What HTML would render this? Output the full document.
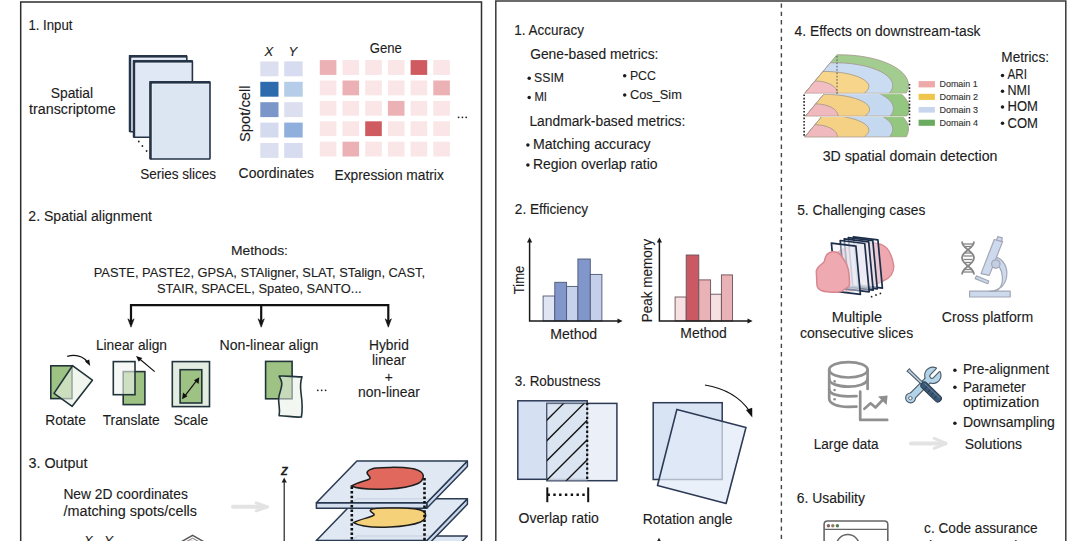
<!DOCTYPE html>
<html><head><meta charset="utf-8">
<style>
html,body{margin:0;padding:0;background:#fff;width:1076px;height:541px;overflow:hidden}
svg{display:block}
text{font-family:"Liberation Sans",sans-serif;fill:#1c1c1c;font-size:13.8px;stroke:#1c1c1c;stroke-width:0.12px}
.t{font-size:13.8px}
.s{font-size:9.6px;fill:#333}
</style></head><body>
<svg width="1076" height="541" viewBox="0 0 1076 541">
<!-- panels -->
<path d="M20.7 545 V2 H481.5 V545" fill="none" stroke="#2e2e2e" stroke-width="1.5"/>
<path d="M495.8 545 V0.9 H1065.8 V545" fill="none" stroke="#3a3a3a" stroke-width="1.5"/>
<line x1="781.4" y1="3.5" x2="781.4" y2="541" stroke="#444" stroke-width="1.4" stroke-dasharray="4.3 4"/>

<!-- ===== INPUT: slices ===== -->
<rect x="129.7" y="55.8" width="57.1" height="76.0" fill="#dce6f3" stroke="#263447" stroke-width="1.6" rx="0.8"/><path d="M130.15 132.1 V56.40 H187.0" fill="none" stroke="#263447" stroke-width="2.6"/><path d="M131.7 130.8 V58.2 H185.8" fill="none" stroke="#f2f6fb" stroke-width="0.8" stroke-opacity="0.8"/>
<rect x="133.7" y="60.8" width="58.7" height="76.5" fill="#dfe8f4" stroke="#263447" stroke-width="1.6" rx="0.8"/><path d="M134.15 137.6 V61.40 H192.6" fill="none" stroke="#263447" stroke-width="2.6"/><path d="M135.7 136.3 V63.2 H191.4" fill="none" stroke="#f2f6fb" stroke-width="0.8" stroke-opacity="0.8"/>
<rect x="150.2" y="81.8" width="59.8" height="77.2" fill="#dce6f3" stroke="#263447" stroke-width="1.6" rx="0.8"/><path d="M150.65 159.3 V82.40 H210.2" fill="none" stroke="#263447" stroke-width="2.6"/><path d="M152.2 158.0 V84.2 H209.0" fill="none" stroke="#f2f6fb" stroke-width="0.8" stroke-opacity="0.8"/>
<g fill="#222"><circle cx="138.8" cy="141.5" r="0.9"/><circle cx="142.4" cy="146" r="0.9"/><circle cx="146.6" cy="151" r="0.9"/></g>
<!-- coordinates -->
<g>
<rect x="260.3" y="61.4" width="18.2" height="14.9" fill="#dcdff0"/>
<rect x="260.3" y="81.8" width="18.2" height="14.9" fill="#2d6aae"/>
<rect x="260.3" y="102.2" width="18.2" height="14.9" fill="#7b96c8"/>
<rect x="260.3" y="122.6" width="18.2" height="14.9" fill="#d5dbef"/>
<rect x="260.3" y="143.0" width="18.2" height="14.9" fill="#dcdff0"/>
<rect x="284.2" y="61.4" width="18.5" height="14.9" fill="#d8dcf0"/>
<rect x="284.2" y="81.8" width="18.5" height="14.9" fill="#b5cde9"/>
<rect x="284.2" y="102.2" width="18.5" height="14.9" fill="#dcdff0"/>
<rect x="284.2" y="122.6" width="18.5" height="14.9" fill="#8fb0dc"/>
<rect x="284.2" y="143.0" width="18.5" height="14.9" fill="#d8dcf0"/>
</g>
<!-- expression matrix --><g><rect x="319.8" y="60.1" width="16.6" height="14.8" fill="#ebb1b4"/><rect x="342.5" y="60.1" width="16.6" height="14.8" fill="#fae5e7"/><rect x="365.2" y="60.1" width="16.6" height="14.8" fill="#fae5e7"/><rect x="387.9" y="60.1" width="16.6" height="14.8" fill="#fae5e7"/><rect x="410.6" y="60.1" width="16.6" height="14.8" fill="#cf5a5f"/><rect x="433.3" y="60.1" width="16.6" height="14.8" fill="#fae5e7"/><rect x="319.8" y="80.5" width="16.6" height="14.8" fill="#fae5e7"/><rect x="342.5" y="80.5" width="16.6" height="14.8" fill="#ebb1b4"/><rect x="365.2" y="80.5" width="16.6" height="14.8" fill="#fae5e7"/><rect x="387.9" y="80.5" width="16.6" height="14.8" fill="#fae5e7"/><rect x="410.6" y="80.5" width="16.6" height="14.8" fill="#fae5e7"/><rect x="433.3" y="80.5" width="16.6" height="14.8" fill="#ebb1b4"/><rect x="319.8" y="100.9" width="16.6" height="14.8" fill="#fae5e7"/><rect x="342.5" y="100.9" width="16.6" height="14.8" fill="#fae5e7"/><rect x="365.2" y="100.9" width="16.6" height="14.8" fill="#fae5e7"/><rect x="387.9" y="100.9" width="16.6" height="14.8" fill="#ebb1b4"/><rect x="410.6" y="100.9" width="16.6" height="14.8" fill="#fae5e7"/><rect x="433.3" y="100.9" width="16.6" height="14.8" fill="#fae5e7"/><rect x="319.8" y="121.3" width="16.6" height="14.8" fill="#fae5e7"/><rect x="342.5" y="121.3" width="16.6" height="14.8" fill="#fae5e7"/><rect x="365.2" y="121.3" width="16.6" height="14.8" fill="#cf5a5f"/><rect x="387.9" y="121.3" width="16.6" height="14.8" fill="#fae5e7"/><rect x="410.6" y="121.3" width="16.6" height="14.8" fill="#fae5e7"/><rect x="433.3" y="121.3" width="16.6" height="14.8" fill="#fae5e7"/><rect x="319.8" y="141.7" width="16.6" height="14.8" fill="#fae5e7"/><rect x="342.5" y="141.7" width="16.6" height="14.8" fill="#ebb1b4"/><rect x="365.2" y="141.7" width="16.6" height="14.8" fill="#fae5e7"/><rect x="387.9" y="141.7" width="16.6" height="14.8" fill="#fae5e7"/><rect x="410.6" y="141.7" width="16.6" height="14.8" fill="#fae5e7"/><rect x="433.3" y="141.7" width="16.6" height="14.8" fill="#fae5e7"/></g>
<g fill="#222"><circle cx="458.6" cy="117.3" r="0.9"/><circle cx="462.4" cy="117.3" r="0.9"/><circle cx="466.2" cy="117.3" r="0.9"/></g>

<!-- ===== ALIGNMENT bracket ===== -->
<g stroke="#111" stroke-width="2.2" fill="none">
<path d="M131 321 V305.1 H388.3 V321"/>
<path d="M261.2 305.1 V321"/>
</g>
<g fill="#111" stroke="#111" stroke-width="0.6" stroke-linejoin="round"><path d="M127.9 318.8 L131.0 321.3 L134.1 318.8 L131.0 327.2 Z"/><path d="M258.1 318.8 L261.2 321.3 L264.3 318.8 L261.2 327.2 Z"/><path d="M385.2 318.8 L388.3 321.3 L391.4 318.8 L388.3 327.2 Z"/></g>
<!-- Rotate icon -->
<rect x="50.8" y="365.8" width="21.2" height="32.8" fill="#9ec283" stroke="#22343a" stroke-width="1.6"/>
<path d="M72.5 365.7 L92.4 380.2 L72.2 406.3 L54 393.4 Z" fill="#e6efe2" fill-opacity="0.62" stroke="#22343a" stroke-width="1.6" stroke-linejoin="round"/>
<path d="M67.2 356.4 Q80 353 87.5 362" fill="none" stroke="#111" stroke-width="1.2"/>
<path d="M85 361.6 L90.2 366 L89.2 359.4 Z" fill="#111"/>
<!-- Translate icon -->
<rect x="123.2" y="371.6" width="21.7" height="33" fill="#9ec283" stroke="#22343a" stroke-width="1.6"/>
<rect x="113.3" y="361.6" width="21.7" height="33.1" fill="#eef3ec" fill-opacity="0.6" stroke="#22343a" stroke-width="1.6"/>
<path d="M154.7 371.6 L138.5 358" stroke="#111" stroke-width="1.2"/>
<path d="M136 356 L142.3 358 L138.8 361.8 Z" fill="#111"/>
<!-- Scale icon -->
<rect x="172.3" y="361.6" width="37.2" height="45" fill="#e3ece1" stroke="#22343a" stroke-width="1.6"/>
<rect x="180.1" y="369.7" width="21.7" height="33.3" fill="#9ec283" stroke="#22343a" stroke-width="1.6"/>
<path d="M184.5 396.3 L197 380.2" stroke="#111" stroke-width="1.2"/>
<path d="M182.1 399.3 L183 392.6 L187.5 396.2 Z" fill="#111"/>
<path d="M199.3 377.2 L198.5 383.9 L194 380.3 Z" fill="#111"/>
<!-- Non-linear icon -->
<rect x="265.6" y="361.4" width="26.5" height="37.4" fill="#9ec283" stroke="#22343a" stroke-width="1.6"/>
<path d="M279.1 376.1 C286 375.2 295 377.6 302 376.7 C300.2 382 300.2 387 301 393 C302 400 303 408 301.4 417 C294 417.9 286 415.4 279.1 415.7 C280.6 409 278.1 404 278.7 398 C279.2 392 282.8 387 281.6 382 C281 379.6 280 378 279.1 376.1 Z" fill="#eaf1e7" fill-opacity="0.55" stroke="#22343a" stroke-width="1.6" stroke-linejoin="round"/>
<g fill="#222"><circle cx="317.8" cy="390.3" r="0.9"/><circle cx="321.7" cy="390.3" r="0.9"/><circle cx="325.6" cy="390.3" r="0.9"/></g>

<!-- ===== OUTPUT ===== -->
<path d="M233 506.8 H265" stroke="#e3e3e3" stroke-width="4" stroke-linecap="round"/>
<path d="M256.2 502.8 L267.8 506.8 L256.2 510.9" fill="none" stroke="#e3e3e3" stroke-width="3" stroke-linecap="round" stroke-linejoin="round"/>
<!-- z axis -->
<path d="M284.2 481 V545" stroke="#222" stroke-width="1.2"/>
<path d="M281.6 482.5 L284.2 477.6 L286.8 482.5 Z" fill="#222"/>
<text x="284.4" y="474.6" text-anchor="middle" font-style="italic" style="font-size:14px;stroke-width:0.5px">z</text>
<!-- hexagon top -->
<path d="M180.5 542.2 L192.6 535.4 L204.7 542.2" fill="none" stroke="#555" stroke-width="1.4"/><path d="M184.5 542.6 L192.6 538.2 L200.7 542.6" fill="none" stroke="#777" stroke-width="1"/><ellipse cx="191" cy="542" rx="4" ry="1.6" fill="#d9a0a8"/>
<text x="84" y="544.6" font-style="italic" style="font-size:13px">X</text>
<text x="104.3" y="544.6" font-style="italic" style="font-size:13px">Y</text>
<!-- plates -->
<g stroke="#2a3a52" stroke-width="1.5" stroke-linejoin="round">
<!-- plate 3 -->
<path d="M356.9 536 H467.4 L426.8 577.7 H316.4 Z" fill="#dce6f2"/>
<!-- plate 2 -->
<path d="M426.8 540.4 L467.4 498.7 V504.3 L426.8 546 Z" fill="#c9d7ea"/>
<path d="M316.4 540.4 H426.8 V546 H316.4 Z" fill="#d3dfee"/>
<path d="M356.9 498.7 H467.4 L426.8 540.4 H316.4 Z" fill="#dce6f2" fill-opacity="0.92"/>
<!-- plate 1 -->
<path d="M426.8 502.7 L467.4 461 V466.6 L426.8 508.3 Z" fill="#c9d7ea"/>
<path d="M316.4 502.7 H426.8 V508.3 H316.4 Z" fill="#d3dfee"/>
<path d="M356.9 461 H467.4 L426.8 502.7 H316.4 Z" fill="#dce6f2" fill-opacity="0.92"/>
</g>
<!-- blobs -->
<path d="M351.6 486 C358 482 366 481 369.6 478.8 C372 477 365 474 367.5 471.5 C371 467.5 380 467.5 390 467.4 C402 467.2 415 467.3 421 472 C425 475 423.5 481 418 483.5 C410 487 400 488.5 388 489 C375 489.5 360 490 351.6 486 Z" fill="#e0685c" stroke="#1e1e1e" stroke-width="1.5"/>
<path d="M353.7 522.6 C360 519 369 518 373.6 515.4 C376 513.5 368 511.5 371 509.5 C375 507.5 385 508 395 508 C408 507.8 418 508 423 511 C427.5 514 426 519.5 420.5 522 C412 525.5 402 526.5 390 527 C378 527.5 362 528 353.7 522.6 Z" fill="#f5d27a" stroke="#1e1e1e" stroke-width="1.5"/>
<!-- dotted vertical lines -->
<g stroke="#111" stroke-width="2.6" stroke-dasharray="2.5 2.1">
<path d="M351.8 486.5 V545"/>
<path d="M424.5 478 V545"/>
</g>

<!-- ===== EFFICIENCY charts ===== -->
<g stroke="#4d5873" stroke-width="0.9">
<rect x="543.1" y="296" width="11.7" height="25" fill="#dfe5f2"/>
<rect x="554.8" y="282.3" width="11.8" height="38.7" fill="#8197cb"/>
<rect x="566.6" y="286.4" width="11.3" height="34.6" fill="#c6d2ec"/>
<rect x="577.9" y="259" width="12.4" height="62" fill="#8197cb"/>
<rect x="590.3" y="274.4" width="11.6" height="46.6" fill="#c3cfeb"/>
</g>
<g stroke="#6b5258" stroke-width="0.9">
<rect x="675.1" y="297" width="11.1" height="24" fill="#f6e0e2"/>
<rect x="686.2" y="255" width="12.6" height="66" fill="#c95a63"/>
<rect x="698.8" y="279.9" width="11.8" height="41.1" fill="#e8b2b6"/>
<rect x="710.6" y="294.2" width="10.8" height="26.8" fill="#f6e0e2"/>
<rect x="721.4" y="274.9" width="11.1" height="46.1" fill="#e8b2b6"/>
</g>
<g stroke="#1a1a1a" stroke-width="1.5" fill="none">
<path d="M529.6 241 V321 H619"/>
<path d="M659.4 241 V321 H749"/>
</g>
<g fill="#1a1a1a">
<path d="M527 242.6 L529.6 237.2 L532.2 242.6 Z"/>
<path d="M617.5 318.4 L622.6 321 L617.5 323.6 Z"/>
<path d="M656.8 242.5 L659.4 237.4 L662 242.5 Z"/>
<path d="M747.5 318.4 L752.6 321 L747.5 323.6 Z"/>
</g>

<!-- ===== ROBUSTNESS ===== -->
<rect x="517.8" y="400.8" width="69.4" height="78.5" fill="#d5e1f2" stroke="#2c3a55" stroke-width="1.5"/>
<rect x="546.9" y="403.4" width="70" height="77.3" fill="#e4ebf6" fill-opacity="0.75" stroke="#2c3a55" stroke-width="1.5"/>
<rect x="546.9" y="403.4" width="40.3" height="77.3" fill="#d6dfee" fill-opacity="0.5"/>
<clipPath id="ovc"><rect x="546.9" y="403.4" width="40.3" height="77.3"/></clipPath>
<g clip-path="url(#ovc)" stroke="#111" stroke-width="1.3">
<path d="M526 441 L606 361"/>
<path d="M526 461.5 L606 381.5"/>
<path d="M526 481.5 L606 401.5"/>
<path d="M526 501 L606 421"/>
<path d="M526 521 L606 441"/>

</g>
<path d="M587.2 403 V480" stroke="#111" stroke-width="2.2" stroke-dasharray="2.3 2.3"/>
<g stroke="#111" stroke-width="2">
<path d="M547.3 487.4 V502.2"/>
<path d="M588.2 487.4 V502.2"/>
<path d="M547.5 494.8 H585.5" stroke-width="2.5" stroke-dasharray="2.4 3.4"/>
</g>
<!-- rotation -->
<rect x="653.2" y="402.7" width="69" height="76.8" fill="#d8e3f3" stroke="#2c3a55" stroke-width="1.5"/>
<path d="M676.9 409.4 L746 427.4 L726.1 503.5 L657.5 485.5 Z" fill="#e2eaf6" fill-opacity="0.72" stroke="#2c3a55" stroke-width="1.6" stroke-linejoin="round"/>
<path d="M704.9 385 Q735 390 749.5 411" fill="none" stroke="#111" stroke-width="1.2"/>
<path d="M746 410 L752.3 417.4 L752.2 407.8 Z" fill="#111"/>
<path d="M656.6 542 L659 537.8 L661.4 542 Z" fill="#222"/>

<!-- ===== DOMAIN figure ===== -->
<path d="M804.80 137.00 L836.91 98.50 A68.5 30.5 0 0 1 906.10 137.00 Z" fill="#93c67e" stroke="#a3968a" stroke-width="0.9" stroke-opacity="0.9"/>
<path d="M804.80 137.00 L830.24 106.50 A58 22.8 0 0 1 889.31 137.00 Z" fill="#c4d9f0" stroke="#a3968a" stroke-width="0.9" stroke-opacity="0.9"/>
<path d="M804.80 137.00 L823.06 115.10 A45.9 15.1 0 0 1 863.98 137.00 Z" fill="#f5d186" stroke="#a3968a" stroke-width="0.9" stroke-opacity="0.9"/>
<path d="M804.80 137.00 L815.06 124.70 A22.5 12.3 0 0 1 837.50 137.00 Z" fill="#f0b9bd" stroke="#a3968a" stroke-width="0.9" stroke-opacity="0.9"/>
<path d="M804.30 137.40 H910.80" stroke="#fff" stroke-width="0.9" stroke-opacity="0.7"/>
<path d="M805.50 116.20 L837.61 77.70 A68.5 30.5 0 0 1 906.80 116.20 Z" fill="#93c67e" stroke="#a3968a" stroke-width="0.9" stroke-opacity="0.9"/>
<path d="M805.50 116.20 L830.94 85.70 A58 22.8 0 0 1 890.01 116.20 Z" fill="#c4d9f0" stroke="#a3968a" stroke-width="0.9" stroke-opacity="0.9"/>
<path d="M805.50 116.20 L823.76 94.30 A45.9 15.1 0 0 1 864.68 116.20 Z" fill="#f5d186" stroke="#a3968a" stroke-width="0.9" stroke-opacity="0.9"/>
<path d="M805.50 116.20 L815.76 103.90 A22.5 12.3 0 0 1 838.20 116.20 Z" fill="#f0b9bd" stroke="#a3968a" stroke-width="0.9" stroke-opacity="0.9"/>
<path d="M805.00 116.60 H911.50" stroke="#fff" stroke-width="0.9" stroke-opacity="0.7"/>
<path d="M804.80 93.30 L836.91 54.80 A68.5 30.5 0 0 1 906.10 93.30 Z" fill="#a3cd90" stroke="#a3968a" stroke-width="0.9" stroke-opacity="0.9"/>
<path d="M804.80 93.30 L830.24 62.80 A58 22.8 0 0 1 889.31 93.30 Z" fill="#cadcf2" stroke="#a3968a" stroke-width="0.9" stroke-opacity="0.9"/>
<path d="M804.80 93.30 L823.06 71.40 A45.9 15.1 0 0 1 863.98 93.30 Z" fill="#f7d68b" stroke="#a3968a" stroke-width="0.9" stroke-opacity="0.9"/>
<path d="M804.80 93.30 L815.06 81.00 A22.5 12.3 0 0 1 837.50 93.30 Z" fill="#f3bdc4" stroke="#a3968a" stroke-width="0.9" stroke-opacity="0.9"/>
<path d="M804.30 93.70 H910.80" stroke="#fff" stroke-width="0.9" stroke-opacity="0.7"/>
<g stroke="#222" stroke-width="1.6" stroke-dasharray="1.6 1.7"><path d="M804.1 94.5 V137.5"/><path d="M909.5 84 V127"/><path d="M837 56 V95" stroke="#555" stroke-width="1" /></g>
<rect x="918.6" y="81.1" width="16.3" height="6.3" fill="#eeaaa9"/>
<rect x="918.6" y="93.8" width="16.3" height="6.1" fill="#f0c54c"/>
<rect x="918.6" y="107" width="16.3" height="5.6" fill="#c7d6ee"/>
<rect x="918.6" y="119.7" width="16.3" height="6.1" fill="#6aab5f"/>
<text class="s" x="939.5" y="87.4" textLength="38.1" lengthAdjust="spacingAndGlyphs">Domain 1</text>
<text class="s" x="939.5" y="100.2" textLength="38.6" lengthAdjust="spacingAndGlyphs">Domain 2</text>
<text class="s" x="939.5" y="112.8" textLength="38.6" lengthAdjust="spacingAndGlyphs">Domain 3</text>
<text class="s" x="939.5" y="125.5" textLength="38.6" lengthAdjust="spacingAndGlyphs">Domain 4</text>
<!-- ===== CHALLENGING: slices ===== -->
<path d="M838 252 C850 245 868 241 880.4 244.2 C888 246.5 892 255 893.6 265 C894.6 273 889.5 278.5 883 281 C872 287 858 291 846 291 Z" fill="#eda9af" stroke="#d9868e" stroke-width="1.4"/>
<path d="M853.4 236.8 L877.9 239.8 L882.4 288.1 L857.9 285.1 Z" fill="#eef2fb" fill-opacity="0.45" stroke="#1d2e4a" stroke-width="1.7" stroke-linejoin="round"/>
<path d="M848.3 237.7 L872.8 240.7 L877.3 289.0 L852.8 286.0 Z" fill="#eef2fb" fill-opacity="0.45" stroke="#1d2e4a" stroke-width="1.7" stroke-linejoin="round"/>
<path d="M844.2 238.9 L868.7 241.9 L873.2 290.2 L848.7 287.2 Z" fill="#eef2fb" fill-opacity="0.45" stroke="#1d2e4a" stroke-width="1.7" stroke-linejoin="round"/>
<path d="M840.2 240.5 L864.7 243.5 L869.2 291.8 L844.7 288.8 Z" fill="#eef2fb" fill-opacity="0.45" stroke="#1d2e4a" stroke-width="1.7" stroke-linejoin="round"/>
<path d="M831.4 243.1 L855.9 246.1 L860.4 294.4 L835.9 291.4 Z" fill="#eef2fb" fill-opacity="0.45" stroke="#1d2e4a" stroke-width="1.7" stroke-linejoin="round"/>
<path d="M832.1 251.7 C834 251.6 835.5 251.8 836.9 252.2 C839 253 840.5 254.8 841.7 256.5 C843.5 258.8 845.2 261.3 846.5 264.2 C848 267.5 848.8 270.5 848.9 273.8 C849.2 277.5 849.8 281.5 849.4 285.4 C848 287.6 846.5 288.5 844.6 289.2 C842.5 291 840.5 292 838.8 292.1 C835.5 292.4 832.3 292.4 829.2 292.1 C826 291.8 823 291.3 820.6 290.2 C818.5 289 817.5 287.8 817.2 286.3 C816.8 283.8 816.6 281.2 816.7 278.7 C816.6 276 816.3 273.5 816.3 271 C816.8 268.8 817.8 267.4 819.1 266.2 C821 264.6 823.2 263.2 824.4 261.3 C825 258.8 825.5 256.2 826.8 254.6 C828.5 253 830.3 252 832.1 251.7 Z" fill="#eeaab0" stroke="#d8868f" stroke-width="1.5"/>
<g fill="#222"><circle cx="871.6" cy="296.7" r="0.9"/><circle cx="876" cy="295" r="0.9"/><circle cx="880.4" cy="293.4" r="0.9"/></g>
<g fill="none" stroke="#858585" stroke-width="1.8"><path d="M962 241.5 C962 249 974 251 974 257.8 C974 265 962 267 962 274.4"/><path d="M974 241.5 C974 249 962 251 962 257.8 C962 265 974 267 974 274.4"/></g><g stroke="#858585" stroke-width="1.3"><path d="M963 244 H973"/><path d="M964.5 246.5 H971.5"/><path d="M964.8 253 H971.2"/><path d="M963.5 256 H972.5"/><path d="M963.5 259.5 H972.5"/><path d="M964.8 262.5 H971.2"/><path d="M964.5 269.5 H971.5"/><path d="M963 272 H973"/></g>
<g stroke="#a3a7b6" stroke-width="1.2" fill="#cdd9ec" stroke-linejoin="round"><rect x="969.6" y="291.2" width="40.6" height="5.8"/><path d="M995 256.8 C1004 259 1008 268 1006.6 277 C1005 286 998 291.3 989 291.3 L995.5 291.3 C1000.5 289 1002.8 284 1002.4 277 C1002 270 999 265 994 262.5 Z"/><path d="M976.3 275.9 L988.8 281 L987.7 283.7 L975.2 278.6 Z"/><path d="M994.3 239.5 L1002.7 241.4 L989.3 275.4 L981 273.6 Z"/><path d="M997.7 236.6 L1002.4 237.9 L1001.4 241.3 L996.7 240 Z"/><circle cx="995.8" cy="264" r="4.2" fill="#c3cee2"/></g>
<g fill="none" stroke="#909090" stroke-width="2.7" stroke-linecap="round" stroke-linejoin="round"><ellipse cx="848.4" cy="369.8" rx="19.2" ry="7.7"/><path d="M829.2 369.8 V398.5 C829.2 404 838 406.6 848 406.8 L856.5 406.6"/><path d="M867.6 369.8 V389"/><path d="M829.2 379 C829.5 384 838 386.5 848 386.6 C858 386.6 867 384 867.6 379"/><path d="M829.2 389.5 C829.5 394 838 396.2 848 396.3 L856.5 396.2"/><path d="M860.2 391.5 V419.9 H887.2"/><path d="M864.4 408.8 L870.6 403.3 L875.5 407.5 L884.5 398"/></g><path d="M878 396.6 L887.6 395.4 L886.6 405 Z" fill="#8e8e8e"/><g fill="#8e8e8e"><circle cx="834.6" cy="381.4" r="1.3"/><circle cx="834.6" cy="390" r="1.3"/><circle cx="834.6" cy="399.2" r="1.3"/></g>
<g transform="translate(910.6 397.9) rotate(-45.5)"><g fill="#4b5866" stroke="#4b5866" stroke-width="2.2" stroke-linejoin="round"><path d="M38.80 -2.7 L30.50 -2.7 A2.7 2.7 0 0 0 30.50 2.7 L38.80 2.7 A7.6 7.6 0 1 1 38.80 -2.7 Z"/><rect x="0" y="-2.9" width="26.7" height="5.8"/><circle cx="0" cy="0" r="4.4"/></g><g fill="#b3d4e8"><path d="M38.80 -2.7 L30.50 -2.7 A2.7 2.7 0 0 0 30.50 2.7 L38.80 2.7 A7.6 7.6 0 1 1 38.80 -2.7 Z"/><rect x="0" y="-2.9" width="26.7" height="5.8"/><circle cx="0" cy="0" r="4.4"/></g><circle cx="-0.3" cy="0" r="1.7" fill="#fff" stroke="#4b5866" stroke-width="0.9"/></g>
<g transform="translate(908.2 370) rotate(43.8)"><path d="M0 -1.7 L3 -1.4 L20 -1.2 L20 1.2 L3 1.4 L0 1.7 Z" fill="#b9d0e2" stroke="#4b5866" stroke-width="1"/><rect x="19" y="-3.4" width="25.5" height="6.8" rx="3.2" fill="#3a5875" stroke="#2a3c50" stroke-width="1"/><g stroke="#1f3246" stroke-width="0.9"><path d="M25 -2.6 V2.6"/><path d="M29.5 -2.8 V2.8"/><path d="M34 -2.8 V2.8"/><path d="M38.5 -2.6 V2.6"/></g><path d="M21 -1.6 H42" stroke="#6d8cab" stroke-width="0.9"/></g>
<path d="M911 443.5 H944" stroke="#e3e3e3" stroke-width="4" stroke-linecap="round"/><path d="M934.2 438.4 L946.2 443.5 L934.2 448.4" fill="none" stroke="#e3e3e3" stroke-width="3" stroke-linecap="round" stroke-linejoin="round"/>
<path d="M824.1 545 V524.5 Q824.1 521 827.6 521 H884.3 Q887.8 521 887.8 524.5 V545" fill="none" stroke="#666" stroke-width="1.6"/><path d="M824.1 529.4 H887.8" stroke="#666" stroke-width="1.4"/><circle cx="828.4" cy="525.8" r="1.7" fill="#8a5e5e"/><circle cx="832.8" cy="525.8" r="1.7" fill="#8f8060"/><circle cx="837.4" cy="525.8" r="1.7" fill="#4e7d52"/><circle cx="847.8" cy="546.2" r="11.6" fill="none" stroke="#666" stroke-width="1.5"/>
<!-- LEFT PANEL TEXT -->
<text x="28.4" y="29.6" textLength="44.1" lengthAdjust="spacingAndGlyphs">1. Input</text>
<text x="50.7" y="98.2" textLength="42.4" lengthAdjust="spacingAndGlyphs">Spatial</text>
<text x="29" y="113.7" textLength="86.6" lengthAdjust="spacingAndGlyphs">transcriptome</text>
<text x="140.2" y="178.5" textLength="75.9" lengthAdjust="spacingAndGlyphs">Series slices</text>
<text x="238.6" y="178.4" textLength="75.3" lengthAdjust="spacingAndGlyphs">Coordinates</text>
<text x="334.5" y="179.9" textLength="109.3" lengthAdjust="spacingAndGlyphs">Expression matrix</text>
<text x="369.7" y="52.8" textLength="32.1" lengthAdjust="spacingAndGlyphs">Gene</text>
<text x="264.5" y="55.8" font-style="italic" style="font-size:13px">X</text>
<text x="288.6" y="55.8" font-style="italic" style="font-size:13px">Y</text>
<text transform="translate(249.6,113.7) rotate(-90)" text-anchor="middle" textLength="56.5" lengthAdjust="spacingAndGlyphs">Spot/cell</text>

<text x="28.3" y="221.2" textLength="123.7" lengthAdjust="spacingAndGlyphs">2. Spatial alignment</text>
<text x="230.9" y="254.6" style="font-size:12.9px" textLength="57.1" lengthAdjust="spacingAndGlyphs">Methods:</text>
<text x="93.7" y="277" style="font-size:12.9px" textLength="331.3" lengthAdjust="spacingAndGlyphs">PASTE, PASTE2, GPSA, STAligner, SLAT, STalign, CAST,</text>
<text x="157" y="293" style="font-size:12.9px" textLength="204.6" lengthAdjust="spacingAndGlyphs">STAIR, SPACEL, Spateo, SANTO...</text>
<text x="95.9" y="349.9" textLength="71.1" lengthAdjust="spacingAndGlyphs">Linear align</text>
<text x="219.5" y="349.5" textLength="98.9" lengthAdjust="spacingAndGlyphs">Non-linear align</text>
<text x="388.9" y="349.5" text-anchor="middle">Hybrid</text>
<text x="388.9" y="365.4" text-anchor="middle">linear</text>
<text x="388.9" y="381.5" text-anchor="middle">+</text>
<text x="389" y="397.4" text-anchor="middle" textLength="61.9" lengthAdjust="spacingAndGlyphs">non-linear</text>
<text x="65.5" y="425" text-anchor="middle">Rotate</text>
<text x="131.2" y="425" text-anchor="middle">Translate</text>
<text x="191" y="425" text-anchor="middle">Scale</text>

<text x="28.5" y="467.8" textLength="58.9" lengthAdjust="spacingAndGlyphs">3. Output</text>
<text x="63.4" y="499.4" textLength="124.4" lengthAdjust="spacingAndGlyphs">New 2D coordinates</text>
<text x="63.4" y="515.9" textLength="133.6" lengthAdjust="spacingAndGlyphs">/matching spots/cells</text>

<!-- RIGHT PANEL TEXT -->
<text x="514.3" y="35.3" textLength="69.7" lengthAdjust="spacingAndGlyphs">1. Accuracy</text>
<text x="530.2" y="58.8" textLength="128.2" lengthAdjust="spacingAndGlyphs">Gene-based metrics:</text>
<text x="534.1" y="81.6" style="font-size:12.8px" textLength="29.9" lengthAdjust="spacingAndGlyphs">SSIM</text>
<text x="629.9" y="79.5" style="font-size:12.8px" textLength="26" lengthAdjust="spacingAndGlyphs">PCC</text>
<text x="534.4" y="101.2" style="font-size:12.8px" textLength="12.6" lengthAdjust="spacingAndGlyphs">MI</text>
<text x="629.9" y="98.8" style="font-size:12.8px" textLength="52" lengthAdjust="spacingAndGlyphs">Cos_Sim</text>
<text x="529.4" y="125.8" textLength="156" lengthAdjust="spacingAndGlyphs">Landmark-based metrics:</text>
<text x="532.9" y="148.5" textLength="117.8" lengthAdjust="spacingAndGlyphs">Matching accuracy</text>
<text x="532.9" y="168.7" textLength="124.7" lengthAdjust="spacingAndGlyphs">Region overlap ratio</text>
<g fill="#1c1c1c">
<circle cx="529.2" cy="78.3" r="1.75"/><circle cx="624.7" cy="75.8" r="1.75"/>
<circle cx="529.2" cy="97.5" r="1.75"/><circle cx="624.7" cy="95.1" r="1.75"/>
<circle cx="527.9" cy="145" r="1.75"/><circle cx="527.9" cy="164.9" r="1.75"/>
</g>
<text x="514.8" y="213.6" textLength="73.4" lengthAdjust="spacingAndGlyphs">2. Efficiency</text>
<text transform="translate(524.4,279.9) rotate(-90)" text-anchor="middle" textLength="28.6" lengthAdjust="spacingAndGlyphs">Time</text>
<text x="550.2" y="338.6" textLength="47" lengthAdjust="spacingAndGlyphs">Method</text>
<text transform="translate(652.4,280.6) rotate(-90)" text-anchor="middle" textLength="83.4" lengthAdjust="spacingAndGlyphs">Peak memory</text>
<text x="680.3" y="337.7" textLength="46.5" lengthAdjust="spacingAndGlyphs">Method</text>
<text x="514.7" y="385.5" textLength="85.9" lengthAdjust="spacingAndGlyphs">3. Robustness</text>
<text x="518.5" y="523.3" textLength="80.3" lengthAdjust="spacingAndGlyphs">Overlap ratio</text>
<text x="642.7" y="524" textLength="89.9" lengthAdjust="spacingAndGlyphs">Rotation angle</text>

<text x="794.6" y="36" textLength="185.9" lengthAdjust="spacingAndGlyphs">4. Effects on downstream-task</text>
<text x="1001.3" y="61.6" textLength="47.7" lengthAdjust="spacingAndGlyphs">Metrics:</text>
<text x="1007.5" y="78.8" textLength="19.4" lengthAdjust="spacingAndGlyphs">ARI</text>
<text x="1007.5" y="94.9" textLength="22.9" lengthAdjust="spacingAndGlyphs">NMI</text>
<text x="1007.5" y="110.7" textLength="30.4" lengthAdjust="spacingAndGlyphs">HOM</text>
<text x="1007.5" y="127.6" textLength="30.4" lengthAdjust="spacingAndGlyphs">COM</text>
<g fill="#1c1c1c">
<circle cx="1002.5" cy="75.4" r="1.75"/><circle cx="1002.5" cy="91.2" r="1.75"/>
<circle cx="1002.5" cy="107" r="1.75"/><circle cx="1002.5" cy="123.2" r="1.75"/>
</g>
<text x="822.7" y="161.4" textLength="174.7" lengthAdjust="spacingAndGlyphs">3D spatial domain detection</text>
<text x="797.2" y="214.8" textLength="128.1" lengthAdjust="spacingAndGlyphs">5. Challenging cases</text>
<text x="831.8" y="322.4" textLength="50.2" lengthAdjust="spacingAndGlyphs">Multiple</text>
<text x="799.9" y="338" textLength="113.3" lengthAdjust="spacingAndGlyphs">consecutive slices</text>
<text x="941.8" y="322.4" textLength="91.4" lengthAdjust="spacingAndGlyphs">Cross platform</text>
<text x="962.9" y="373.8" textLength="86.1" lengthAdjust="spacingAndGlyphs">Pre-alignment</text>
<text x="962.9" y="391.5" textLength="62.8" lengthAdjust="spacingAndGlyphs">Parameter</text>
<text x="962.9" y="407.3" textLength="76.3" lengthAdjust="spacingAndGlyphs">optimization</text>
<text x="962.9" y="427.1" textLength="91.9" lengthAdjust="spacingAndGlyphs">Downsampling</text>
<g fill="#1c1c1c">
<circle cx="954.9" cy="370.2" r="1.75"/><circle cx="954.9" cy="387.2" r="1.75"/><circle cx="954.9" cy="423.3" r="1.75"/>
</g>
<text x="813.8" y="448.6" textLength="64.8" lengthAdjust="spacingAndGlyphs">Large data</text>
<text x="964.7" y="448.6" textLength="57.4" lengthAdjust="spacingAndGlyphs">Solutions</text>
<text x="796.8" y="503.1" textLength="68.1" lengthAdjust="spacingAndGlyphs">6. Usability</text>
<text x="924.1" y="532.6" textLength="113.6" lengthAdjust="spacingAndGlyphs">c. Code assurance</text>
<text x="924.5" y="550.5">d. Documentation</text>
</svg>
</body></html>
